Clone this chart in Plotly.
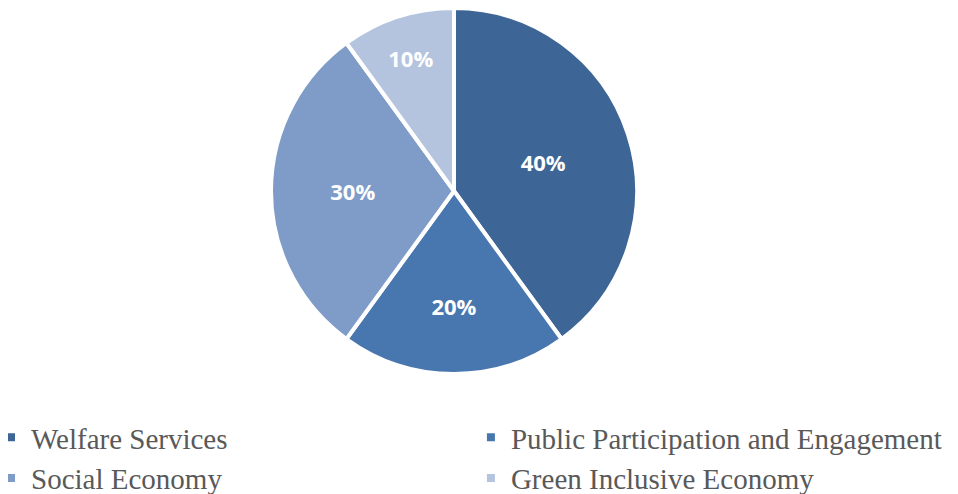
import plotly.graph_objects as go

categorias = ["Welfare Services", "Public Participation and Engagement",
              "Social Economy", "Green Inclusive Economy"]
valores = [40, 20, 30, 10]
colores = ["#3D6595", "#4876AE", "#7E9CC7", "#B5C4DE"]

W, H = 966, 494
MB = 120  # margen inferior donde va la leyenda
PH = H - MB

fig = go.Figure()

fig.add_trace(go.Pie(
    labels=categorias,
    values=valores,
    sort=False,
    direction="clockwise",
    rotation=0,
    marker={"colors": colores, "line": {"color": "white", "width": 4}},
    texttemplate="%{percent:.0%}",
    textposition="inside",
    insidetextorientation="horizontal",
    textfont={"family": "Open Sans", "size": 22, "color": "white", "weight": "bold"},
    hoverinfo="label+percent",
    domain={"x": [263 / W, 629 / W], "y": [1 - 366 / PH, 1]},
))

fig.update_layout(
    width=W,
    height=H,
    margin={"l": 0, "r": 0, "t": 0, "b": MB, "autoexpand": False},
    paper_bgcolor="white",
    plot_bgcolor="white",
    showlegend=True,
    legend={
        "orientation": "h",
        "x": -17 / W,
        "xanchor": "left",
        "y": (PH - 404) / PH,
        "yanchor": "top",
        "entrywidth": 0.4968,
        "entrywidthmode": "fraction",
        "font": {"family": "Liberation Serif", "size": 29, "color": "#595959"},
        "itemwidth": 30,
        "bgcolor": "rgba(0,0,0,0)",
    },
)

fig.write_html("out.html")
